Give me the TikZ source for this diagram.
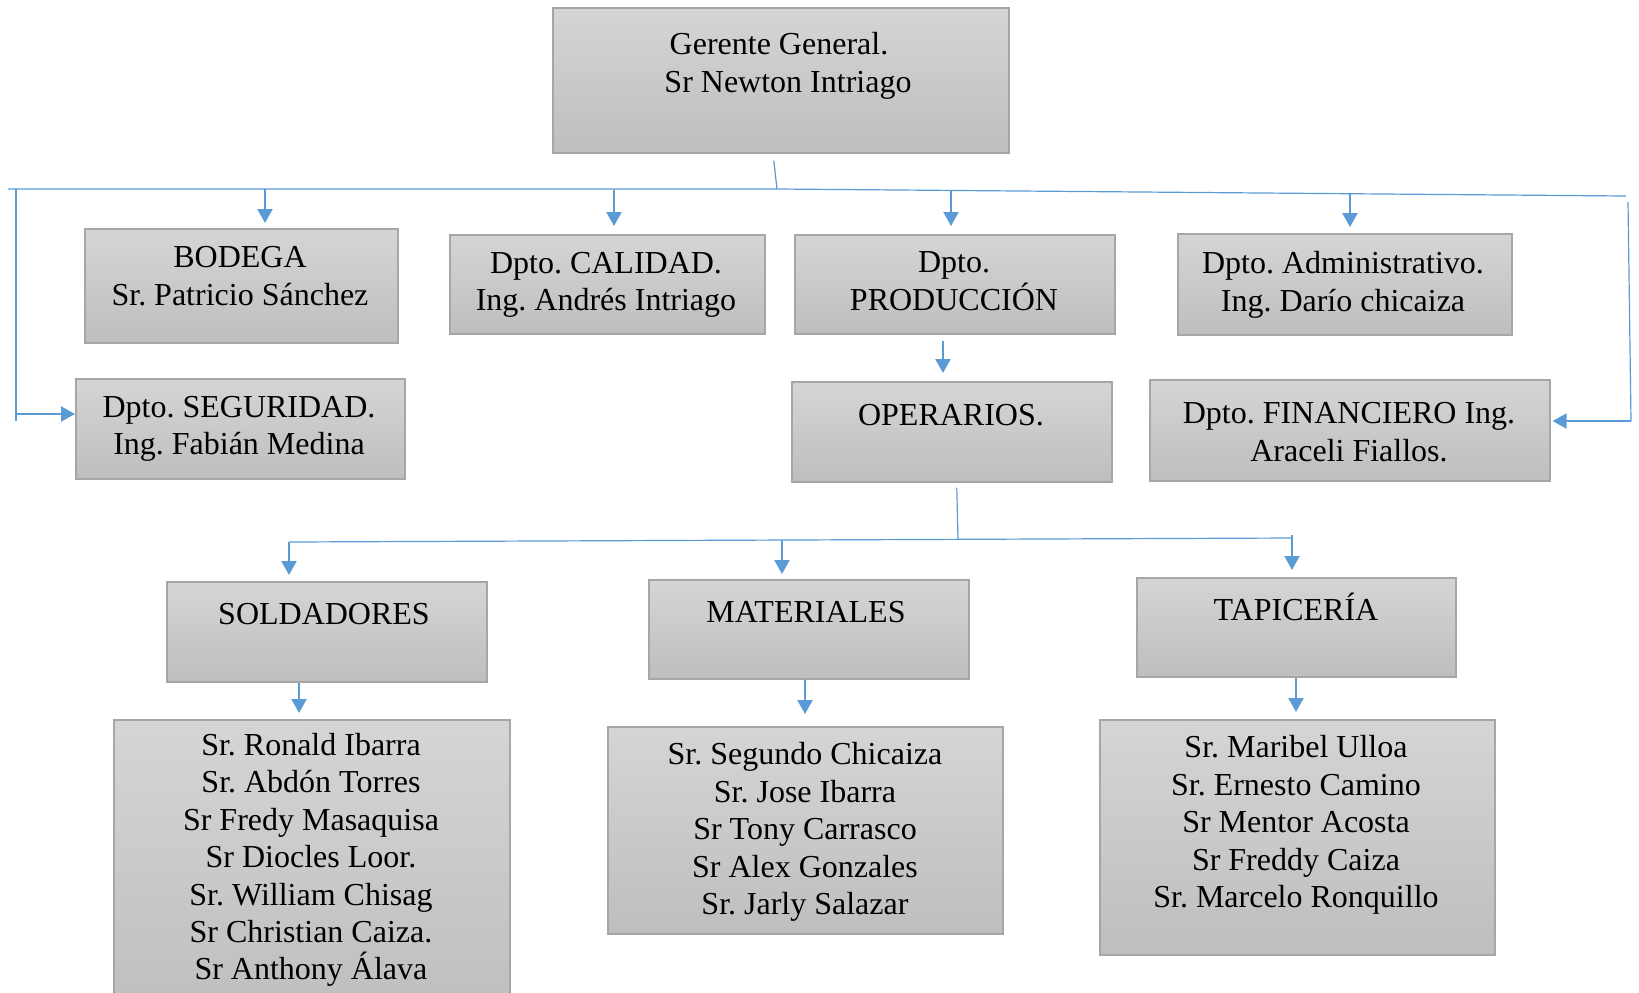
\documentclass[tikz,border=0pt]{standalone}
\usepackage{fontspec}
\setmainfont{Liberation Serif}
\usetikzlibrary{arrows.meta,calc}
\definecolor{conn}{HTML}{5B9BD5}
\definecolor{boxedge}{HTML}{A6A6A6}
\definecolor{boxtop}{HTML}{D5D5D5}
\definecolor{boxbot}{HTML}{BEBEBE}
\frenchspacing
\begin{document}
\begin{tikzpicture}[x=0.5pt,y=-0.5pt,
  orgbox/.style={draw=boxedge, line width=0.8pt, top color=boxtop, bottom color=boxbot,
    inner sep=0pt, anchor=north west},
  lbl/.style={align=center, inner sep=0pt, font=\fontsize{16}{18.7}\selectfont},
  busline/.style={draw=conn, line width=0.6pt},
  arr/.style={draw=conn, line width=1.1pt, -{Triangle[length=7pt,width=7.5pt]}}]
\useasboundingbox (0,0) rectangle (1639,992);
\clip (0,0) rectangle (1639,992);

% boxes
\node[orgbox, minimum width=228pt,   minimum height=72.5pt]  (ger)  at (552,7)    {};
\node[orgbox, minimum width=156.5pt, minimum height=57pt]    (bod)  at (84,228)   {};
\node[orgbox, minimum width=157.5pt, minimum height=49.5pt]  (cal)  at (449,234)  {};
\node[orgbox, minimum width=160pt,   minimum height=49.5pt]  (pro)  at (794,234)  {};
\node[orgbox, minimum width=167pt,   minimum height=50.5pt]  (adm)  at (1177,233) {};
\node[orgbox, minimum width=164.5pt, minimum height=50pt]    (seg)  at (75,378)   {};
\node[orgbox, minimum width=160pt,   minimum height=50pt]    (ope)  at (791,381)  {};
\node[orgbox, minimum width=200pt,   minimum height=50.5pt]  (fin)  at (1149,379) {};
\node[orgbox, minimum width=160pt,   minimum height=50pt]    (sol)  at (166,581)  {};
\node[orgbox, minimum width=160pt,   minimum height=49.5pt]  (mat)  at (648,579)  {};
\node[orgbox, minimum width=159.5pt, minimum height=49.5pt]  (tap)  at (1136,577) {};
\node[orgbox, minimum width=198pt,   minimum height=150pt]   (soll) at (113,719)  {};
\node[orgbox, minimum width=197.5pt, minimum height=103.5pt] (matl) at (607,726)  {};
\node[orgbox, minimum width=197.5pt, minimum height=117.5pt] (tapl) at (1099,719) {};

% texts
\node[lbl] (gert)  at (788,66)   {Gerente General.\hspace*{9pt}\\ Sr Newton Intriago};
\node[lbl] (bodt)  at (240,276)  {BODEGA\\Sr. Patricio Sánchez};
\node[lbl] (calt)  at (606,285)  {Dpto. CALIDAD.\\Ing. Andrés Intriago};
\node[lbl] (prot)  at (954,281)  {Dpto.\\PRODUCCIÓN};
\node[lbl] (admt)  at (1343,285) {Dpto. Administrativo.\\Ing. Darío chicaiza};
\node[lbl] (segt)  at (239,429)  {Dpto. SEGURIDAD.\\Ing. Fabián Medina};
\node[lbl] (opet)  at (951,415)  {OPERARIOS.};
\node[lbl] (fint)  at (1349,432) {Dpto. FINANCIERO Ing.\\Araceli Fiallos.};
\node[lbl] (solt)  at (324,614)  {SOLDADORES};
\node[lbl] (matt)  at (806,612)  {MATERIALES};
\node[lbl] (tapt)  at (1296,607) {TAPICERÍA};
\node[lbl] (sollt) at (311,860)  {Sr. Ronald Ibarra\\Sr. Abdón Torres\\Sr Fredy Masaquisa\\Sr Diocles Loor.\\Sr. William Chisag\\Sr Christian Caiza.\\Sr Anthony Álava};
\node[lbl] (matlt) at (805,832)  {Sr. Segundo Chicaiza\\Sr. Jose Ibarra\\Sr Tony Carrasco\\Sr Alex Gonzales\\Sr. Jarly Salazar};
\node[lbl] (taplt) at (1296,825) {Sr. Maribel Ulloa\\Sr. Ernesto Camino\\Sr Mentor Acosta\\Sr Freddy Caiza\\Sr. Marcelo Ronquillo};

% upper distribution line
\coordinate (busL) at (8,189);
\coordinate (busM) at (777,189);
\coordinate (busR) at (1626,196);
\draw[busline] ($(ger.south)+(-7,7)$) -- (busM);
\draw[busline] (busL) -- (busM) -- (busR);

\coordinate (d1) at (265,189);
\coordinate (d2) at (614,190);
\coordinate (d3) at (951,191);
\coordinate (d4) at (1350,194);
\draw[arr, shorten >=2.5pt] (d1) -- (d1 |- bod.north);
\draw[arr, shorten >=4pt]   (d2) -- (d2 |- cal.north);
\draw[arr, shorten >=4pt]   (d3) -- (d3 |- pro.north);
\draw[arr, shorten >=3pt]   (d4) -- (d4 |- adm.north);

% side branches
\coordinate (lv) at (16,189);
\coordinate (lbend) at (16,414);
\draw[busline] (lv) -- (16,421);
\draw[arr] (lbend) -- (lbend -| seg.west);
\coordinate (rtop) at (1628,202);
\coordinate (rbend) at (1631,421);
\draw[busline] (rtop) -- (rbend);
\draw[arr, shorten >=1pt] (rbend) -- (rbend -| fin.east);

% production to operators
\coordinate (px) at (943,0);
\draw[arr, shorten <=3pt, shorten >=4pt] (pro.south -| px) -- (ope.north -| px);

% lower distribution line
\coordinate (obus) at (958,540);
\coordinate (sbusL) at (289,542);
\coordinate (sbusR) at (1292,538);
\draw[busline] ($(ope.south)+(5,5)$) -- (obus);
\draw[busline] (sbusL) -- (sbusR);
\coordinate (mb) at (782,540);
\coordinate (tb) at (1292,535);
\draw[arr, shorten >=3pt]   (sbusL) -- (sbusL |- sol.north);
\draw[arr, shorten >=2.5pt] (mb) -- (mb |- mat.north);
\draw[arr, shorten >=3.5pt] (tb) -- (tb |- tap.north);

% groups to their members
\coordinate (sx) at (299,0);
\coordinate (mx) at (805,0);
\coordinate (tx) at (1296,0);
\draw[arr, shorten >=3pt]   (sol.south -| sx) -- (soll.north -| sx);
\draw[arr, shorten >=6pt]   (mat.south -| mx) -- (matl.north -| mx);
\draw[arr, shorten >=3.5pt] (tap.south -| tx) -- (tapl.north -| tx);
\end{tikzpicture}
\end{document}
